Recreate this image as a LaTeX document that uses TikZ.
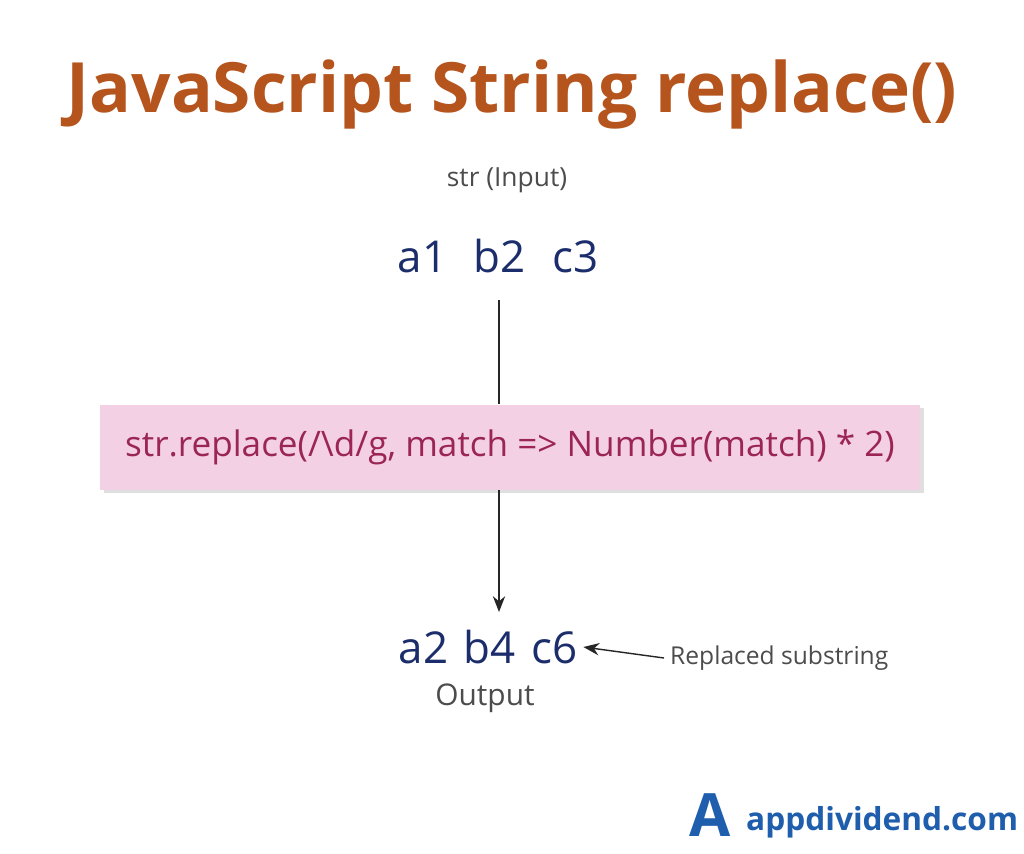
\documentclass[tikz,border=0pt]{standalone}
\usepackage{fontspec}
\setmainfont{Open Sans}
\usepackage{tikz}
\usetikzlibrary{positioning,arrows.meta,shadows}
\definecolor{titlec}{HTML}{B5541C}
\definecolor{valc}{HTML}{1B2D6B}
\definecolor{codec}{HTML}{9A2556}
\definecolor{boxc}{HTML}{F4D0E5}
\definecolor{logoc}{HTML}{1F5EAD}
\tikzset{
  vals/.style={text=valc, font=\fontsize{25}{30}\selectfont},
  note/.style={text=black!70, font=\fontsize{15}{18}\selectfont},
  flow/.style={-{Stealth[length=9pt,width=7pt]}, thick, black!85}
}
\begin{document}
\begin{tikzpicture}[x=0.02cm,y=-0.02cm]
  \useasboundingbox[fill=white] (0,0) rectangle (1024,853);
  \node[text=titlec, font=\bfseries\fontsize{39.5}{46}\selectfont] (title) at (512,94) {JavaScript String replace()};
  \node[note] (inlab) at (507,180) {str (Input)};
  \node[vals] (input) at (498,256) {a1\hspace{0.6em}b2\hspace{0.6em}c3};
  \node[fill=boxc, minimum width=820*0.02cm, minimum height=85*0.02cm,
        drop shadow={opacity=0.25,shadow xshift=2pt,shadow yshift=-2pt},
        text=codec, font=\fontsize{20}{24}\selectfont] (call) at (510,447)
        {str.replace(/\textbackslash d/g, match => Number(match) * 2)};
  \node[vals] (output) at (488,647) {a2\hspace{0.35em}b4\hspace{0.35em}c6};
  \node[note, font=\fontsize{17}{20}\selectfont] (outlab) at (485,698) {Output};
  \node[note, font=\fontsize{14}{17}\selectfont, anchor=west] (repl) at (664,658) {Replaced substring};
  \coordinate (top) at (499,300);
  \coordinate (bot) at (499,612);
  \draw[thick, black!85] (top) -- (call.north -| top);
  \draw[flow] (call.south -| top) -- (bot);
  \draw[flow] (repl.west) -- (output.east);
  % logo
  \node[text=logoc, font=\bfseries\fontsize{34}{40}\selectfont] (mark) at (710,815) {A};
  \node[text=logoc, font=\bfseries\fontsize{18}{22}\selectfont, anchor=west] (site) at (740,822) {appdividend.com};
\end{tikzpicture}
\end{document}
